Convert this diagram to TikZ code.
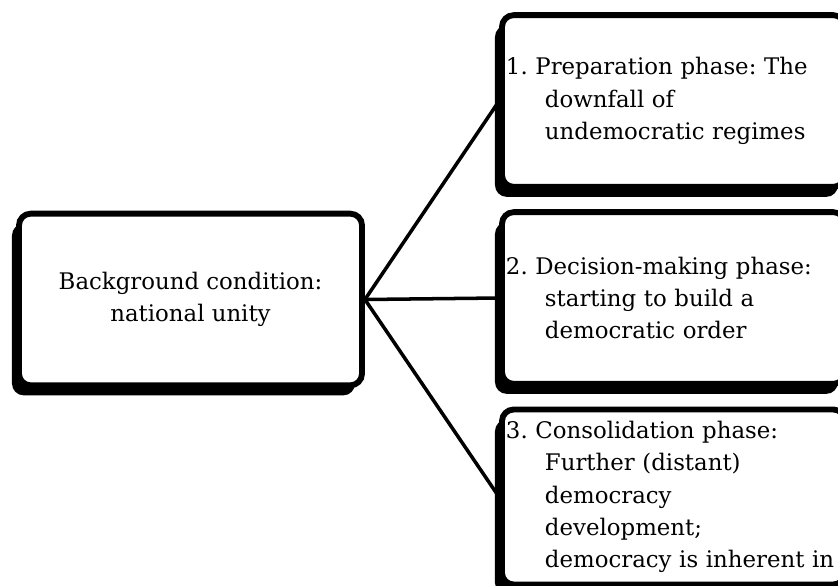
\documentclass[tikz,border=0pt]{standalone}
\usepackage{fontspec}
\setmainfont{DejaVu Serif}
\usetikzlibrary{shadows}
\frenchspacing
\newcommand{\phaseindent}{\hspace*{1.17cm}}
\begin{document}
\begin{tikzpicture}[x=0.03cm, y=-0.03cm,
    box/.style={draw, line width=5pt, rounded corners=0.35cm, fill=white,
        minimum width=10.29cm, minimum height=5.15cm, inner xsep=0.12cm,
        font=\fontsize{19.5}{27.5}\selectfont,
        drop shadow={shadow xshift=-0.21cm, shadow yshift=-0.3cm, fill=black, opacity=1}},
    phase/.style={box, text width=10.05cm, align=left},
    link/.style={line width=3pt}]
    \path[use as bounding box] (0,0) rectangle (838,585);
    \clip (0,0) rectangle (838,585);
    %% background condition
    \node[box, align=center] (cond) at (190.5,299.5) {Background condition:\\national unity};
    %% phases 1,2,3
    \node[phase] (prep) at (673.5,101) {1. Preparation phase: The\\\phaseindent downfall of\\\phaseindent undemocratic regimes};
    \node[phase] (decide) at (673.5,298) {2. Decision-making phase:\\\phaseindent starting to build a\\\phaseindent democratic order};
    \node[phase, minimum height=5.25cm] (consol) at (673.5,497) {3. Consolidation phase:\\\phaseindent Further (distant)\\\phaseindent democracy\\\phaseindent development;\\\phaseindent democracy is inherent in};
    %% links
    \draw[link] (cond.east) -- (prep.west);
    \draw[link] (cond.east) -- (decide.west);
    \draw[link] (cond.east) -- (consol.west);
\end{tikzpicture}
\end{document}
